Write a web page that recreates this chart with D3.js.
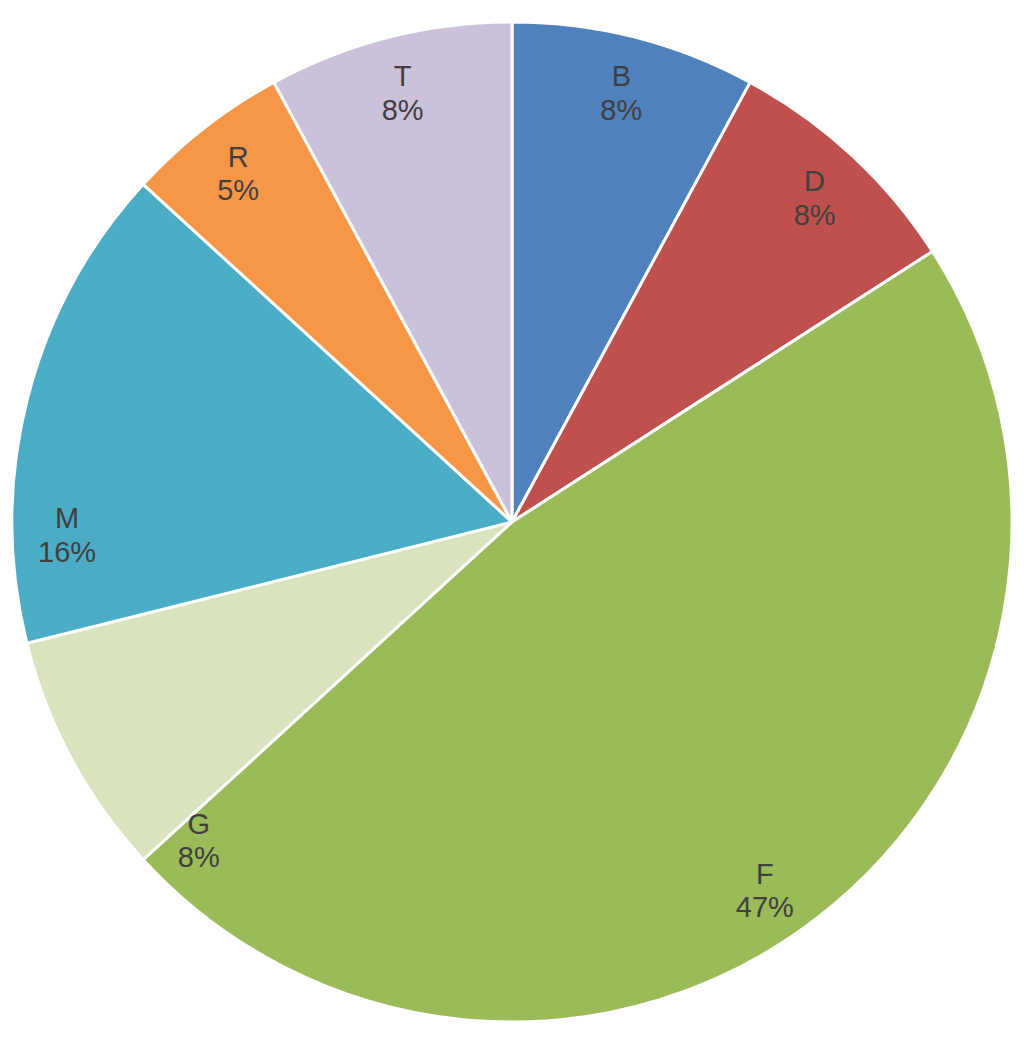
<!DOCTYPE html>
<html>
<head>
<meta charset="utf-8">
<script src="https://cdn.jsdelivr.net/npm/d3@7"></script>
<style>
  body { margin: 0; background: #fff; }
  text { font-family: "Liberation Sans", Arial, sans-serif; }
</style>
</head>
<body>
<div class="chart"></div>
<script>
// data (clockwise from 12 o'clock)
const names = ["B", "D", "F", "G", "M", "R", "T"];
const values = [7.9, 8.0, 47.3, 7.9, 15.7, 5.3, 7.9];
const colors = ["#4F81BD", "#C0504D", "#9BBB59", "#D7E4BD", "#4BACC6", "#F79646", "#CCC1DA"];
// label angle nudges (degrees) where the labels sit off the slice middle
const labelNudge = {M: -15.6, G: -17, F: 3};

const width = 1024, height = 1037;
const cx = 512, cy = 522, r = 500;

const svg = d3.select('.chart')
  .append('svg')
  .attr('width', width)
  .attr('height', height)
  .append('g')
  .attr('transform', `translate(${cx},${cy})`);

const data = names.map((n, i) => ({name: n, value: values[i], color: colors[i]}));
const total = d3.sum(values);

const pie = d3.pie().sort(null).value(d => d.value);
const arc = d3.arc().innerRadius(0).outerRadius(r);

const arcs = pie(data);

svg.selectAll('path')
  .data(arcs)
  .enter()
  .append('path')
  .attr('d', arc)
  .attr('fill', d => d.data.color)
  .attr('stroke', '#fff')
  .attr('stroke-width', 3)
  .attr('stroke-linejoin', 'round');

const labelR = 445;
const lab = svg.selectAll('.lab')
  .data(arcs)
  .enter()
  .append('text')
  .attr('class', 'lab')
  .attr('text-anchor', 'middle')
  .attr('font-size', 29)
  .attr('fill', '#404040')
  .attr('transform', d => {
    const a = (d.startAngle + d.endAngle) / 2 + (labelNudge[d.data.name] || 0) * Math.PI / 180;
    return `translate(${labelR * Math.sin(a)},${-labelR * Math.cos(a)})`;
  });

lab.append('tspan').attr('x', 0).attr('dy', '-0.15em').text(d => d.data.name);
lab.append('tspan').attr('x', 0).attr('dy', '1.15em')
  .text(d => Math.round(d.data.value / total * 100) + '%');
</script>
</body>
</html>
